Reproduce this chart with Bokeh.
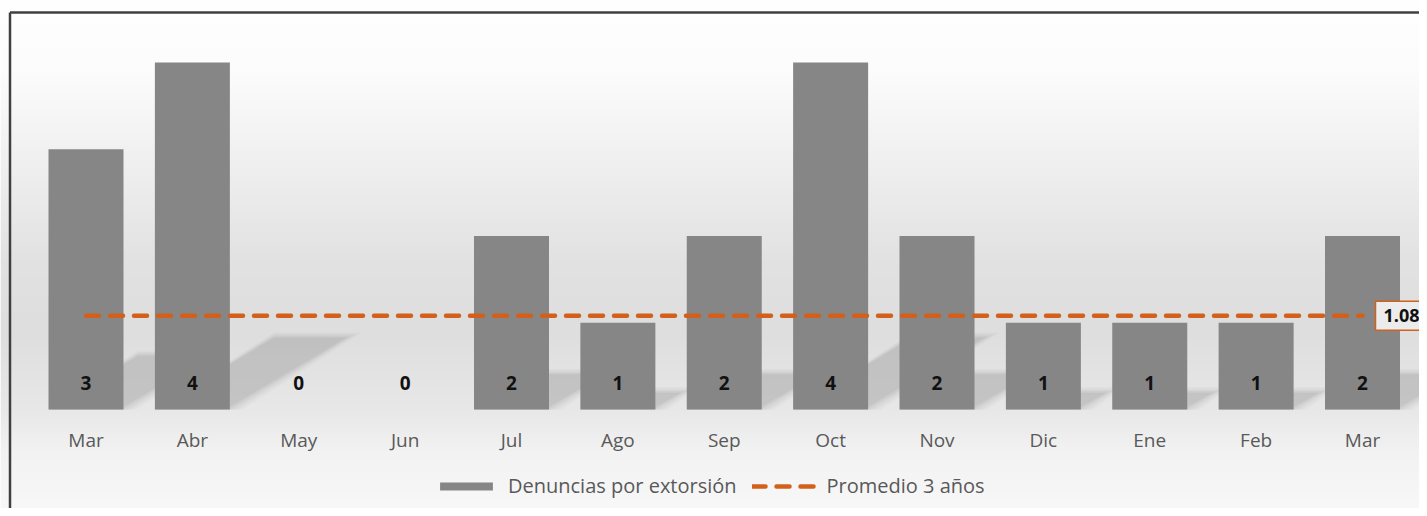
import numpy as np
from bokeh.plotting import figure
from bokeh.models import Range1d, Label, Legend, LegendItem, ColumnDataSource
from bokeh.core.properties import value
from bokeh.embed import file_html
from bokeh.resources import INLINE

# ---- data ----
months = ["Mar", "Abr", "May", "Jun", "Jul", "Ago", "Sep", "Oct", "Nov", "Dic", "Ene", "Feb", "Mar"]
denuncias = [3, 4, 0, 0, 2, 1, 2, 4, 2, 1, 1, 1, 2]
promedio = [1.08] * 13
promedio_label = "1.08"
series_names = ["Denuncias por extorsión", "Promedio 3 años"]

FONT = "Open Sans"
W, H = 1419, 508
PX_PER_CAT = 106.375
PX_PER_UNIT = 86.75
BASE_PX = 409           # baseline distance from top of frame
FIRST_PX = 85.5         # first category centre from left of frame
BAR_W = 0.705

x0 = -FIRST_PX / PX_PER_CAT
x1 = x0 + W / PX_PER_CAT
y1 = BASE_PX / PX_PER_UNIT
y0 = -(H - BASE_PX) / PX_PER_UNIT

p = figure(width=W, height=H, x_range=Range1d(x0, x1), y_range=Range1d(y0, y1),
           toolbar_location=None, output_backend="svg", min_border=0)
p.axis.visible = False
p.grid.visible = False
p.outline_line_color = None
p.background_fill_color = "white"
p.border_fill_color = "white"

# background vertical gradient (decoration)
rows = np.arange(H)[::-1]  # image rows go bottom -> top
stops_px = [0, 70, 160, 260, 330, 410, 450, H]
stops_v = [255, 252, 240, 226, 222, 232, 242, 248]
g = np.interp(rows, stops_px, stops_v).astype(np.uint32)
img = np.zeros((H, 2), dtype=np.uint32)
view = img.view(dtype=np.uint8).reshape((H, 2, 4))
view[:, :, 0] = g[:, None]
view[:, :, 1] = g[:, None]
view[:, :, 2] = g[:, None]
view[:, :, 3] = 255
p.image_rgba(image=[img], x=x0, y=y0, dw=x1 - x0, dh=y1 - y0)

idx = list(range(len(months)))
src = ColumnDataSource(dict(x=idx, top=denuncias, lab=[str(v) for v in denuncias],
                            month=months, avg=promedio))

# soft cast shadows derived from bar values
SKEW_X, SKEW_Y = 0.28, 0.21
for spread, alpha in [(-0.04, 0.06), (0.0, 0.05), (0.04, 0.045), (0.08, 0.04), (0.12, 0.03)]:
    xs, ys = [], []
    for i, v in zip(idx, denuncias):
        if v <= 0:
            continue
        l, r = i - BAR_W / 2, i + BAR_W / 2 + spread
        top = SKEW_Y * v + spread * 0.4
        xs.append([l, r, r + SKEW_X * v, l + SKEW_X * v])
        ys.append([0, 0, top, top])
    p.patches(xs=xs, ys=ys, fill_color="#505050", fill_alpha=alpha, line_color=None)

bars = p.vbar(x="x", top="top", width=BAR_W, source=src,
              fill_color="#868686", line_color=None)

line = p.line(x="x", y="avg", source=src, line_color="#D2601A", line_width=4.5,
              line_dash="13 11", line_cap="round")

# data labels
p.text(x="x", y=0.3, text="lab", source=src, text_align="center", text_baseline="middle",
       text_font=value(FONT), text_font_style="bold", text_font_size="19px",
       text_color="#111111")

# category labels
p.text(x="x", y=-0.357, text="month", source=src, text_align="center", text_baseline="middle",
       text_font=value(FONT), text_font_size="19px", text_color="#595959")

# average label box
p.add_layout(Label(x=idx[-1], y=promedio[-1], text=promedio_label, x_offset=13,
                   text_align="left", text_baseline="middle",
                   text_font=FONT, text_font_size="18px", text_font_style="bold",
                   text_color="#111111", padding=8,
                   border_line_color="#D2601A", border_line_width=1.5,
                   background_fill_color="#ececec"))

# chart border (top and left edges of the chart box)
bx = x0 + 9.5 / PX_PER_CAT
by = y1 - 12 / PX_PER_UNIT
p.segment(x0=[bx, bx], y0=[by, by], x1=[x1, bx], y1=[by, y0],
          line_color="#404040", line_width=2.5)

legend = Legend(items=[LegendItem(label=series_names[0], renderers=[bars]),
                       LegendItem(label=series_names[1], renderers=[line])],
                orientation="horizontal", location=(433, 9),
                glyph_width=66, glyph_height=10, label_standoff=9, spacing=15,
                padding=0, margin=0, border_line_color=None,
                background_fill_alpha=0,
                label_text_font=FONT, label_text_font_size="20px",
                label_text_color="#595959")
p.add_layout(legend)

open("out.html", "w").write(file_html(p, INLINE))
